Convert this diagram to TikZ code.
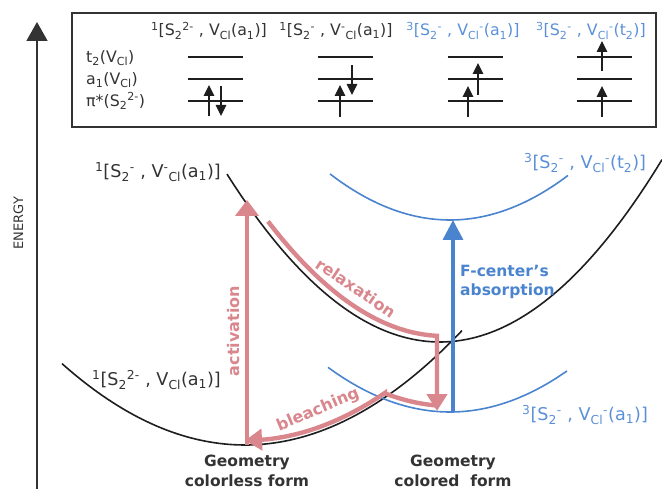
\documentclass[tikz,border=0pt]{standalone}
\usepackage{fontspec}
\setmainfont{DejaVu Sans}
\usetikzlibrary{arrows.meta}
\definecolor{pinkc}{HTML}{D9868C}
\definecolor{bluec}{HTML}{4A84CF}
\definecolor{bluet}{HTML}{5B90D8}
\definecolor{inkc}{HTML}{1E1E1E}
\definecolor{grayt}{HTML}{333333}
\newcommand\sbs[1]{\textsubscript{#1}}
\newcommand\sps[1]{\textsuperscript{#1}}
\tikzset{
  lbl/.style={font=\fontsize{17.6}{20}\selectfont, text=grayt, inner sep=0pt},
  hdr/.style={font=\fontsize{15.8}{18}\selectfont, text=grayt, inner sep=0pt},
  bold/.style={font=\fontsize{15.5}{19.5}\selectfont\bfseries, inner sep=0pt},
  pbold/.style={font=\fontsize{16}{19}\selectfont\bfseries, text=pinkc, inner sep=0pt},
  curve/.style={inkc, line width=1.6pt},
  bcurve/.style={bluec, line width=1.6pt},
  lvl/.style={inkc, line width=2.4pt},
  elec/.style={inkc, line width=1.1pt, -{Triangle[width=10.5pt,length=11pt]}},
  pinkarrow/.style={pinkc, line width=4.4pt},
}
\begin{document}
\begin{tikzpicture}[x=1pt,y=-1pt]
\useasboundingbox (0,0) rectangle (662,489);
% energy axis
\coordinate (axb) at (37,489);
\coordinate (axt) at (37,22);
\draw[grayt, line width=1.8pt, -{Triangle[width=21pt,length=19pt]}] (axb) -- (axt);
\node[font=\fontsize{13}{15}\selectfont, text=grayt, rotate=90] (energy) at (18.5,223) {ENERGY};
% box
\draw[grayt, line width=2.6pt] (72,13) rectangle (656,127);
\node[hdr] (h1) at (209,31) {\sps{1}[S\sbs{2}\sps{2-} , V\sbs{Cl}(a\sbs{1})]};
\node[hdr] (h2) at (336,31) {\sps{1}[S\sbs{2}\sps{-} , V\sps{-}\sbs{Cl}(a\sbs{1})]};
\node[hdr, text=bluet] (h3) at (463,31) {\sps{3}[S\sbs{2}\sps{-} , V\sbs{Cl}\sps{-}(a\sbs{1})]};
\node[hdr, text=bluet] (h4) at (591,31) {\sps{3}[S\sbs{2}\sps{-} , V\sbs{Cl}\sps{-}(t\sbs{2})]};
\node[hdr, anchor=west] (lt) at (86,58) {t\sbs{2}(V\sbs{Cl})};
\node[hdr, anchor=west] (la) at (86,80) {a\sbs{1}(V\sbs{Cl})};
\node[hdr, anchor=west] (lp) at (86,101) {π*(S\sbs{2}\sps{2-})};
% levels
\foreach \c/\n in {215.5/a,345/b,475/c,604.5/d}{
  \foreach \yy/\m in {57/t,79/m,101/p}{
    \coordinate (\n\m L) at (\c-27.5,\yy);
    \coordinate (\n\m R) at (\c+27.5,\yy);
    \draw[lvl] (\n\m L) -- (\n\m R);
  }
}
% electrons
\coordinate (e1a) at (209,116); \coordinate (e1b) at (209,85);
\coordinate (e2a) at (221,86);  \coordinate (e2b) at (221,116);
\draw[elec] (e1a) -- (e1b); \draw[elec] (e2a) -- (e2b);
\coordinate (e3a) at (340,117); \coordinate (e3b) at (340,85);
\coordinate (e4a) at (352,65);  \coordinate (e4b) at (352,95);
\draw[elec] (e3a) -- (e3b); \draw[elec] (e4a) -- (e4b);
\coordinate (e5a) at (468,117); \coordinate (e5b) at (468,86);
\coordinate (e6a) at (478,95);  \coordinate (e6b) at (478,63);
\draw[elec] (e5a) -- (e5b); \draw[elec] (e6a) -- (e6b);
\coordinate (e7a) at (602,117); \coordinate (e7b) at (602,86);
\coordinate (e8a) at (602,71);  \coordinate (e8b) at (602,41);
\draw[elec] (e7a) -- (e7b); \draw[elec] (e8a) -- (e8b);
% potential curves
\draw[curve] plot[domain=62:462, samples=80] (\x, {445-24.3*((\x-245)/100)^2});
\draw[curve] plot[domain=227:662, samples=90] (\x, {342-37*((\x-440)/100)^2});
\draw[bcurve] plot[domain=330:568, samples=60] (\x, {220-32*((\x-450)/100)^2});
\draw[bcurve] plot[domain=328:567, samples=60] (\x, {412-30*((\x-450)/100)^2});
% curve labels
\node[lbl, anchor=east] (s1) at (221,172) {\sps{1}[S\sbs{2}\sps{-} , V\sps{-}\sbs{Cl}(a\sbs{1})]};
\node[lbl, anchor=east] (s0) at (221,380) {\sps{1}[S\sbs{2}\sps{2-} , V\sbs{Cl}(a\sbs{1})]};
\node[lbl, anchor=west, text=bluet] (t2) at (524,163) {\sps{3}[S\sbs{2}\sps{-} , V\sbs{Cl}\sps{-}(t\sbs{2})]};
\node[lbl, anchor=west, text=bluet] (t1) at (522,415) {\sps{3}[S\sbs{2}\sps{-} , V\sbs{Cl}\sps{-}(a\sbs{1})]};
% blue absorption arrow
\coordinate (fb) at (453,412);
\coordinate (ft) at (453,220);
\draw[bluec, line width=3.4pt, -{Triangle[width=20pt,length=20pt]}] (fb) -- (ft);
\node[bold, text=bluec, anchor=west, align=left] (fc) at (460,282) {F-center's\\absorption};
% activation
\coordinate (ab) at (247,445);
\coordinate (at) at (247,200);
\draw[pinkarrow, -{Triangle[width=23pt,length=16pt]}] (ab) -- (at);
\node[pbold, rotate=90] (act) at (234,331) {activation};
% relaxation
\coordinate (rc) at (437,336);
\coordinate (rt) at (437,411);
\draw[pinkarrow, -{Triangle[width=20pt,length=17pt]}] plot[domain=268:437, samples=60] (\x, {336-37*((\x-444)/100)^2}) -- (rc) -- (rt);
\node[pbold, rotate=-34] (rel) at (356,288) {relaxation};
% bleaching
\coordinate (bs) at (433,405);
\coordinate (bt) at (245,440.5);
\draw[pinkarrow, -{Triangle[width=21pt,length=17pt]}] (bs) -- plot[domain=433:385, samples=20] (\x, {406-30*((\x-450)/100)^2}) -- plot[domain=385:266, samples=40] (\x, {440.5-24.3*((\x-245)/100)^2}) -- (bt);
\node[pbold, rotate=23] (bl) at (318,410) {bleaching};
% geometry labels
\node[bold, text=grayt, align=center] (g1) at (247,471) {Geometry\\colorless form};
\node[bold, text=grayt, align=center] (g2) at (453,471) {Geometry\\colored\ \ form};
\end{tikzpicture}
\end{document}
